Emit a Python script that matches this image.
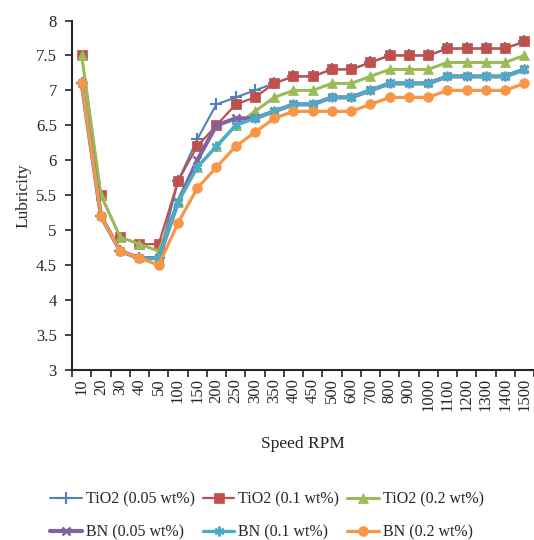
import numpy as np, pandas as pd, matplotlib
matplotlib.use('Agg')
import matplotlib.pyplot as plt, seaborn as sns

# Datos
velocidades = ['10','20','30','40','50','100','150','200','250','300','350','400',
               '450','500','600','700','800','900','1000','1100','1200','1300','1400','1500']
tio2_005 = [7.1,5.2,4.7,4.6,4.6,5.7,6.3,6.8,6.9,7.0,7.1,7.2,7.2,7.3,7.3,7.4,7.5,7.5,7.5,7.6,7.6,7.6,7.6,7.7]
tio2_01  = [7.5,5.5,4.9,4.8,4.8,5.7,6.2,6.5,6.8,6.9,7.1,7.2,7.2,7.3,7.3,7.4,7.5,7.5,7.5,7.6,7.6,7.6,7.6,7.7]
tio2_02  = [7.5,5.5,4.9,4.8,4.7,5.4,5.9,6.2,6.5,6.7,6.9,7.0,7.0,7.1,7.1,7.2,7.3,7.3,7.3,7.4,7.4,7.4,7.4,7.5]
bn_005   = [7.1,5.2,4.7,4.6,4.6,5.4,6.0,6.5,6.6,6.6,6.7,6.8,6.8,6.9,6.9,7.0,7.1,7.1,7.1,7.2,7.2,7.2,7.2,7.3]
bn_01    = [7.1,5.2,4.7,4.6,4.6,5.4,5.9,6.2,6.5,6.6,6.7,6.8,6.8,6.9,6.9,7.0,7.1,7.1,7.1,7.2,7.2,7.2,7.2,7.3]
bn_02    = [7.1,5.2,4.7,4.6,4.5,5.1,5.6,5.9,6.2,6.4,6.6,6.7,6.7,6.7,6.7,6.8,6.9,6.9,6.9,7.0,7.0,7.0,7.0,7.1]
etiquetas = ['TiO2 (0.05 wt%)','TiO2 (0.1 wt%)','TiO2 (0.2 wt%)','BN (0.05 wt%)','BN (0.1 wt%)','BN (0.2 wt%)']

sns.set_style('ticks')
plt.rcParams['font.family'] = ['Liberation Serif', 'DejaVu Serif']

# color, marcador, tamaño, ancho de linea, ancho de borde
estilos = [('#4F81BD','+',8,1.5,1.5), ('#C0504D','s',6.5,1.6,0.5), ('#9BBB59','^',7,2.2,0.5),
           ('#8064A2','x',6,3.0,1.8), ('#4BACC6',(6,2,0),7,2.4,1.6), ('#F79646','o',7,2.3,0.5)]
series = [tio2_005, tio2_01, tio2_02, bn_005, bn_01, bn_02]

fig = plt.figure(figsize=(5.34,5.40), dpi=100)
ax = fig.add_axes([0.135, 0.315, 0.865, 0.647])
for vals, lab, (c, m, ms, lw, mew) in zip(series, etiquetas, estilos):
    df = pd.DataFrame({'Speed': velocidades, 'Lubricity': vals})
    sns.lineplot(data=df, x='Speed', y='Lubricity', ax=ax, color=c, marker=m, markersize=ms,
                 linewidth=lw, markeredgewidth=mew, markeredgecolor=c, label=lab, legend=False)

ax.set_ylim(3, 8)
ax.set_yticks(np.arange(3, 8.01, 0.5))
ax.set_yticklabels(['3','3.5','4','4.5','5','5.5','6','6.5','7','7.5','8'])
ax.set_xlim(-0.41, 23.41)
ax.set_xticks(range(len(velocidades)))
ax.set_xticklabels(velocidades, rotation=90)
ax.set_xticks(np.arange(-0.5, len(velocidades), 1), minor=True)
ax.tick_params(axis='x', which='major', length=0, pad=6, labelsize=12)
ax.tick_params(axis='x', which='minor', length=5, width=1.2, direction='out')
ax.tick_params(axis='y', length=5, width=1.2, labelsize=12, pad=6)
for s in ['top','right']: ax.spines[s].set_visible(False)
for s in ['left','bottom']: ax.spines[s].set_linewidth(1.5)
ax.set_xlabel('Speed RPM', fontsize=12.5, labelpad=18)
ax.set_ylabel('Lubricity', fontsize=12.5, labelpad=3)

h, l = ax.get_legend_handles_labels()
orden = [0,3,1,4,2,5]
fig.legend([h[i] for i in orden], [l[i] for i in orden], ncol=3, loc='lower center',
           bbox_to_anchor=(0.5, -0.027), frameon=False, fontsize=11.5, handlelength=2.0,
           handletextpad=0.25, columnspacing=0.5, labelspacing=1.05)
fig.savefig('out.png', dpi=100)
